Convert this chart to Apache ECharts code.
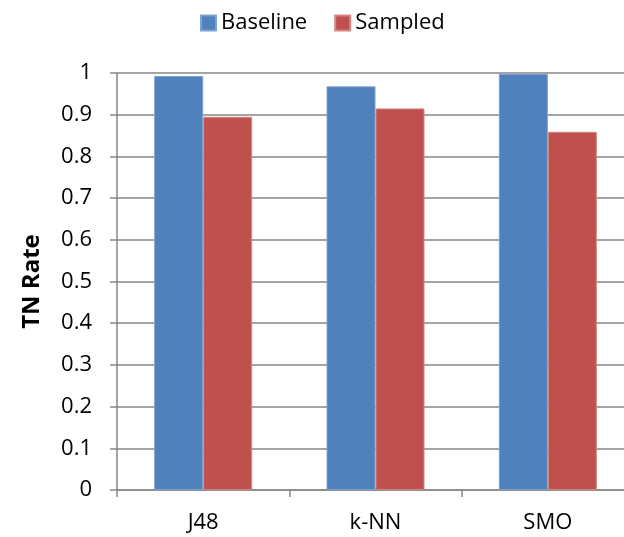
<!DOCTYPE html>
<html>
<head>
<meta charset="utf-8">
<script src="https://cdn.jsdelivr.net/npm/echarts@6/dist/echarts.min.js"></script>
<style>
  html, body { margin: 0; padding: 0; background: #fff; }
  #chart { width: 624px; height: 537px; }
</style>
</head>
<body>
<div id="chart"></div>
<script>
  const categories = ['J48', 'k-NN', 'SMO'];
  const baseline = [0.993, 0.968, 0.998];
  const sampled = [0.895, 0.915, 0.859];
  const yTicks = [0, 0.1, 0.2, 0.3, 0.4, 0.5, 0.6, 0.7, 0.8, 0.9, 1];

  const chart = echarts.init(document.getElementById('chart'));
  const font = '"Open Sans", "Noto Sans", sans-serif';

  chart.setOption({
    animation: false,
    textStyle: { fontFamily: font },
    legend: {
      top: 7,
      left: 195,
      itemWidth: 15,
      itemHeight: 15,
      itemGap: 27,
      icon: 'rect',
      textStyle: { fontSize: 22, color: '#000', fontFamily: font },
      data: ['Baseline', 'Sampled']
    },
    grid: {
      left: 117,
      width: 517,
      top: 73,
      bottom: 47,
      outerBoundsMode: 'none'
    },
    xAxis: {
      type: 'category',
      data: categories,
      axisLine: { lineStyle: { color: '#868686', width: 1.5 } },
      axisTick: { show: true, length: 7, inside: false, lineStyle: { color: '#868686', width: 1.5 } },
      axisLabel: { fontSize: 22, color: '#000', margin: 22, fontFamily: font }
    },
    yAxis: {
      type: 'value',
      min: 0,
      max: 1,
      interval: 0.1,
      name: 'TN Rate',
      nameLocation: 'middle',
      nameGap: 73,
      nameTextStyle: { fontSize: 24, fontWeight: 'bold', color: '#000', fontFamily: font },
      axisLine: { show: true, lineStyle: { color: '#868686', width: 1.5 } },
      axisTick: { show: true, length: 7, lineStyle: { color: '#868686', width: 1.5 } },
      axisLabel: {
        fontSize: 22, color: '#000', margin: 25, fontFamily: font,
        formatter: function (v) {
          const t = yTicks.find(function (x) { return Math.abs(x - v) < 1e-6; });
          return t === undefined ? '' : String(t);
        }
      },
      splitLine: { lineStyle: { color: '#868686', width: 1.5 } }
    },
    series: [
      {
        name: 'Baseline',
        type: 'bar',
        data: baseline,
        barWidth: 49,
        barGap: '0%',
        itemStyle: { color: '#4F81BD', borderColor: '#7DA2CF', borderWidth: 1 }
      },
      {
        name: 'Sampled',
        type: 'bar',
        data: sampled,
        barWidth: 49,
        barGap: '0%',
        itemStyle: { color: '#C0504D', borderColor: '#D48784', borderWidth: 1 }
      }
    ]
  });
</script>
</body>
</html>
